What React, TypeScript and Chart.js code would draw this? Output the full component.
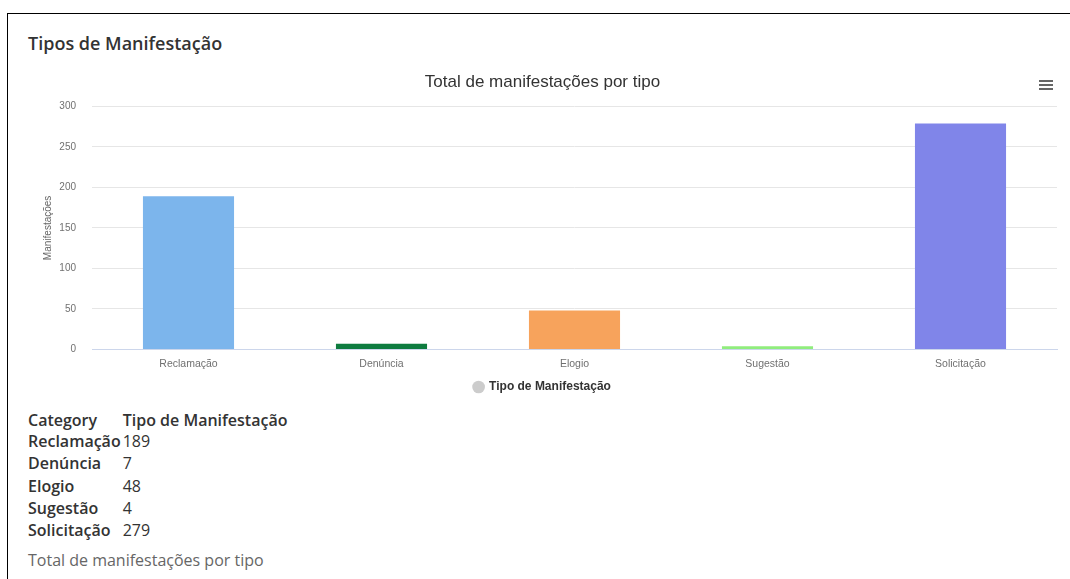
import React, { useEffect, useRef } from "react";
import { Chart, registerables } from "chart.js";

Chart.register(...registerables);

const pageTitle = "Tipos de Manifestação";
const chartTitle = "Total de manifestações por tipo";
const seriesName = "Tipo de Manifestação";
const yAxisTitle = "Manifestações";
const categories = ["Reclamação", "Denúncia", "Elogio", "Sugestão", "Solicitação"];
const values = [189, 7, 48, 4, 279];
const barColors = ["#7cb5ec", "#0e7c3f", "#f7a35c", "#90ed7d", "#8085e9"];
const yMin = 0;
const yMax = 300;
const yStep = 50;
const tableHeader = ["Category", "Tipo de Manifestação"];

const CHART_FONT = "'Liberation Sans', Arial, sans-serif";
const PAGE_FONT = "'Open Sans', sans-serif";

export default function App() {
  const canvasRef = useRef<HTMLCanvasElement | null>(null);

  useEffect(() => {
    document.body.style.margin = "0";
    const canvas = canvasRef.current;
    if (!canvas) return;
    const chart = new Chart(canvas, {
      type: "bar",
      data: {
        labels: categories,
        datasets: [
          {
            label: seriesName,
            data: values,
            backgroundColor: barColors,
            borderWidth: 0,
            categoryPercentage: 1,
            barPercentage: 0.472,
          },
        ],
      },
      options: {
        animation: false,
        responsive: false,
        maintainAspectRatio: false,
        events: [],
        layout: { padding: { left: 0, right: 11, top: 0, bottom: 0 } },
        plugins: {
          title: {
            display: true,
            text: chartTitle,
            color: "#333333",
            font: { family: CHART_FONT, size: 17, weight: "normal" },
            padding: { top: 7, bottom: 14 },
          },
          legend: {
            position: "bottom",
            labels: {
              usePointStyle: true,
              pointStyle: "circle",
              boxWidth: 9,
              boxHeight: 9,
              color: "#333333",
              padding: 3,
              font: { family: CHART_FONT, size: 12, weight: "bold" },
              generateLabels: () => [
                {
                  text: seriesName,
                  fillStyle: "#cccccc",
                  strokeStyle: "#cccccc",
                  lineWidth: 0,
                  pointStyle: "circle",
                  hidden: false,
                  datasetIndex: 0,
                  fontColor: "#333333",
                } as any,
              ],
            },
          },
          tooltip: { enabled: false },
        },
        scales: {
          x: {
            grid: { drawOnChartArea: false, drawTicks: false },
            border: { color: "#ccd6eb" },
            ticks: {
              color: "#707070",
              padding: 8,
              font: { family: CHART_FONT, size: 10.5 },
            },
          },
          y: {
            min: yMin,
            max: yMax,
            ticks: {
              stepSize: yStep,
              color: "#707070",
              padding: 16,
              font: { family: CHART_FONT, size: 10 },
            },
            grid: { color: "#e6e6e6", drawTicks: false },
            border: { display: false },
            title: {
              display: true,
              text: yAxisTitle,
              color: "#666666",
              font: { family: CHART_FONT, size: 10 },
              padding: { top: 14, bottom: 4 },
            },
            afterFit: (scale: any) => {
              scale.width = 64;
            },
          },
        },
      },
    });
    return () => chart.destroy();
  }, []);

  const bar: React.CSSProperties = {
    position: "absolute",
    left: 0,
    width: 14,
    height: 2,
    background: "#666666",
  };

  return (
    <div style={{ position: "relative", width: 1070, height: 579, overflow: "hidden", background: "#ffffff" }}>
      <div
        style={{
          position: "absolute",
          left: 7,
          top: 13,
          width: 1080,
          height: 600,
          borderTop: "1.5px solid #000",
          borderLeft: "1.5px solid #000",
          boxSizing: "border-box",
        }}
      />
      <div
        style={{
          position: "absolute",
          left: 28,
          top: 30,
          fontFamily: PAGE_FONT,
          fontWeight: 600,
          fontSize: 18,
          lineHeight: "26px",
          color: "#333333",
          whiteSpace: "nowrap",
        }}
      >
        {pageTitle}
      </div>
      <canvas
        ref={canvasRef}
        width={1040}
        height={338}
        style={{ position: "absolute", left: 28, top: 65, width: 1040, height: 338 }}
      />
      <div style={{ position: "absolute", left: 1039, top: 80, width: 14, height: 12 }}>
        <div style={{ ...bar, top: 0 }} />
        <div style={{ ...bar, top: 4 }} />
        <div style={{ ...bar, top: 8 }} />
      </div>
      <table
        style={{
          position: "absolute",
          left: 28,
          top: 410,
          borderCollapse: "collapse",
          fontFamily: PAGE_FONT,
          fontSize: 16,
          color: "#333333",
        }}
      >
        <thead>
          <tr style={{ height: 20 }}>
            <th style={{ textAlign: "left", fontWeight: 600, padding: "0 1px 0 0", lineHeight: "20px" }}>{tableHeader[0]}</th>
            <th style={{ textAlign: "left", fontWeight: 600, padding: "0 0 0 1px", lineHeight: "20px" }}>{tableHeader[1]}</th>
          </tr>
        </thead>
        <tbody>
          {categories.map((c, i) => (
            <tr key={c} style={{ height: 22.3 }}>
              <th style={{ textAlign: "left", fontWeight: 600, padding: "0 1px 0 0", lineHeight: "22.3px" }}>{c}</th>
              <td style={{ textAlign: "left", fontWeight: 400, padding: "0 0 0 1px", lineHeight: "22.3px" }}>{values[i]}</td>
            </tr>
          ))}
        </tbody>
      </table>
      <div
        style={{
          position: "absolute",
          left: 28,
          top: 549,
          fontFamily: PAGE_FONT,
          fontSize: 16,
          lineHeight: "22px",
          color: "#666666",
          whiteSpace: "nowrap",
        }}
      >
        {chartTitle}
      </div>
    </div>
  );
}
